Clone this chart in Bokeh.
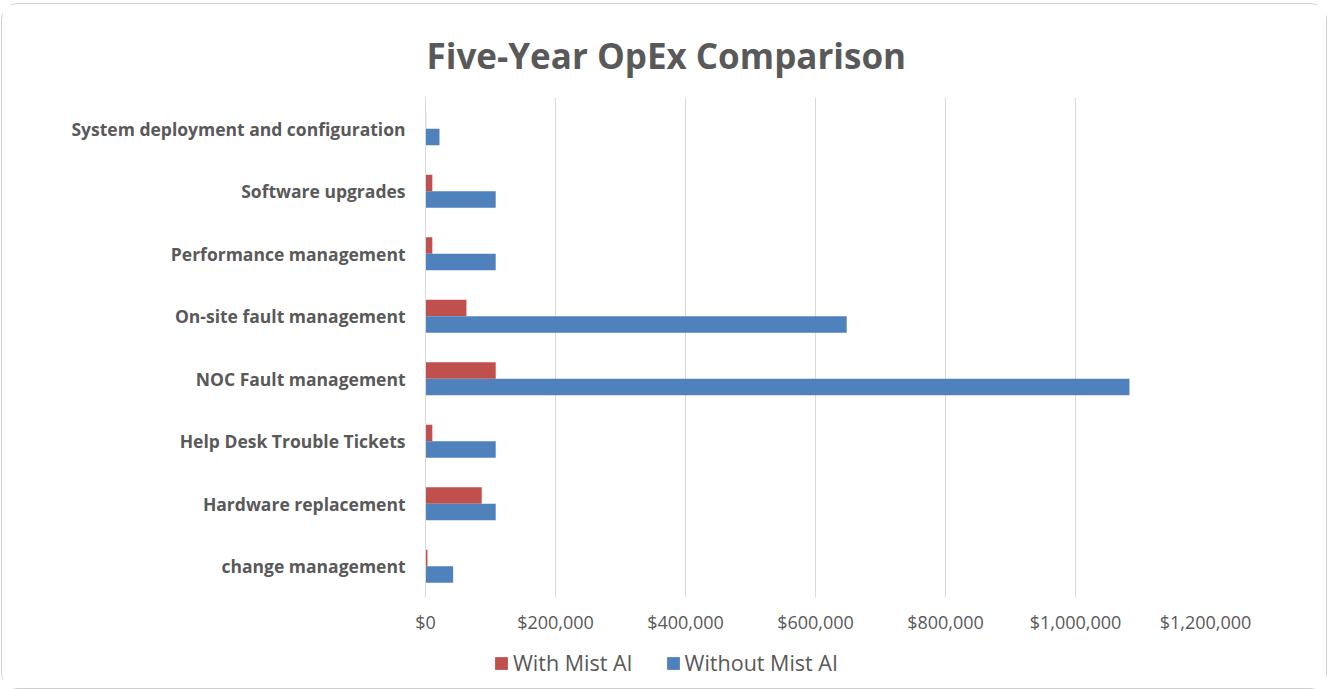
from bokeh.plotting import figure
from bokeh.layouts import column
from bokeh.models import (ColumnDataSource, FactorRange, Range1d, NumeralTickFormatter,
                          FixedTicker, Legend, LegendItem, Title)
from bokeh.transform import dodge
from bokeh.embed import file_html
from bokeh.resources import INLINE

categories = ["change management", "Hardware replacement", "Help Desk Trouble Tickets",
              "NOC Fault management", "On-site fault management", "Performance management",
              "Software upgrades", "System deployment and configuration"]
with_mist = [3000, 86500, 10500, 108000, 63000, 10500, 10500, 1000]
without_mist = [42500, 108000, 108000, 1083000, 648000, 108000, 108000, 21500]
x_ticks = [0, 200000, 400000, 600000, 800000, 1000000, 1200000]
series_names = ["With Mist AI", "Without Mist AI"]
series_colors = ["#C0504D", "#4F81BD"]

FONT = "Open Sans"
GREY = "#595959"

src = ColumnDataSource(dict(cat=categories, w=with_mist, wo=without_mist))

p = figure(width=1324, height=640, output_backend="svg", toolbar_location=None,
           y_range=FactorRange(*categories, range_padding=0),
           x_range=Range1d(0, 1200000),
           min_border_left=423, min_border_right=121, min_border_top=93, min_border_bottom=47)
p.outline_line_color = None

r1 = p.hbar(y=dodge("cat", 0.1325, range=p.y_range), right="w", left=0, height=0.265,
            source=src, fill_color=series_colors[0], line_color=None)
r2 = p.hbar(y=dodge("cat", -0.1325, range=p.y_range), right="wo", left=0, height=0.265,
            source=src, fill_color=series_colors[1], line_color=None)

p.xaxis.ticker = FixedTicker(ticks=x_ticks)
p.xaxis.formatter = NumeralTickFormatter(format="$0,0")
p.xaxis.axis_line_color = None
p.xaxis.major_tick_line_color = None
p.xaxis.minor_tick_line_color = None
p.xaxis.major_label_text_font = FONT
p.xaxis.major_label_text_font_size = "18px"
p.xaxis.major_label_text_color = GREY
p.xaxis.major_label_standoff = 6

p.yaxis.axis_line_color = "#d9d9d9"
p.yaxis.major_tick_line_color = None
p.yaxis.minor_tick_line_color = None
p.yaxis.major_label_text_font = FONT
p.yaxis.major_label_text_font_style = "bold"
p.yaxis.major_label_text_font_size = "17.5px"
p.yaxis.major_label_standoff = 14
p.yaxis.major_label_text_color = GREY

p.xgrid.grid_line_color = "#d9d9d9"
p.xgrid.ticker = FixedTicker(ticks=x_ticks[1:])
p.ygrid.grid_line_color = None

title = Title(text="Five-Year OpEx Comparison", align="left", offset=1,
              text_font=FONT, text_font_style="bold", text_font_size="35px",
              text_color=GREY, standoff=38)
p.add_layout(title, "above")

# legend strip (its frame is aligned with the main plot's frame by the column layout)
p2 = figure(width=1324, height=44, output_backend="svg", toolbar_location=None,
            x_axis_location=None, y_axis_location=None,
            x_range=Range1d(0, 1), y_range=Range1d(0, 1),
            min_border_left=0, min_border_right=0, min_border_top=0, min_border_bottom=0)
p2.outline_line_color = None
p2.xgrid.grid_line_color = None
p2.ygrid.grid_line_color = None
# invisible legend proxies (placed outside the strip's visible range)
proxy = ColumnDataSource(dict(y=[-5], left=[-5], right=[-4]))
l1 = p2.hbar(y="y", left="left", right="right", height=0.5, source=proxy,
             fill_color=series_colors[0], line_color=None)
l2 = p2.hbar(y="y", left="left", right="right", height=0.5, source=proxy,
             fill_color=series_colors[1], line_color=None)
legend = Legend(items=[LegendItem(label=series_names[0], renderers=[l1]),
                       LegendItem(label=series_names[1], renderers=[l2])],
                orientation="horizontal", location=(68, 11),
                label_text_font=FONT, label_text_font_size="21.5px", label_text_color=GREY,
                glyph_width=16, glyph_height=16, spacing=32, label_standoff=4,
                border_line_color=None, background_fill_alpha=0, padding=4, margin=0)
p2.add_layout(legend, "center")

layout = column(p, p2, spacing=0,
                styles={"border": "1px solid #cfcfcf", "border-radius": "16px",
                        "margin-top": "3px", "margin-left": "1px", "background": "white"})

open("out.html", "w").write(file_html(layout, INLINE))
